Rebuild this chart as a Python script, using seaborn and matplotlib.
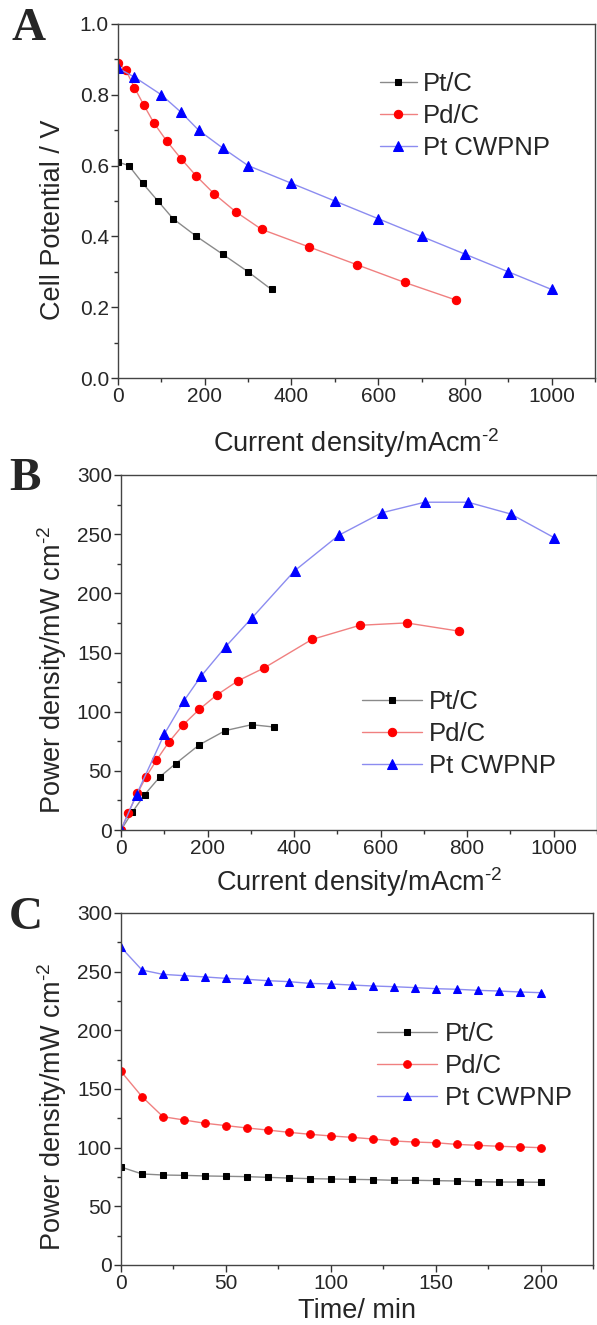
import matplotlib
matplotlib.use("Agg")
import matplotlib.pyplot as plt
from matplotlib.ticker import AutoMinorLocator, MultipleLocator
import seaborn as sns

# --- data ---
series_names = ["Pt/C", "Pd/C", "Pt CWPNP"]

# A: polarisation curves (current density mA/cm2, cell potential V)
ptc_i_A = [0, 25, 57, 92, 127, 181, 241, 300, 354]
ptc_v_A = [0.61, 0.60, 0.55, 0.50, 0.45, 0.40, 0.35, 0.30, 0.25]
pdc_i_A = [0, 18, 38, 60, 83, 112, 145, 181, 222, 271, 331, 441, 551, 661, 780]
pdc_v_A = [0.89, 0.87, 0.82, 0.77, 0.72, 0.67, 0.62, 0.57, 0.52, 0.47, 0.42, 0.37, 0.32, 0.27, 0.22]
cwp_i_A = [0, 38, 100, 146, 186, 241, 300, 400, 500, 600, 700, 800, 900, 1000]
cwp_v_A = [0.875, 0.85, 0.80, 0.75, 0.70, 0.65, 0.60, 0.55, 0.50, 0.45, 0.40, 0.35, 0.30, 0.25]

# B: power density curves (mW/cm2)
ptc_i_B = [0, 26, 55, 90, 126, 181, 241, 302, 354]
ptc_p_B = [0, 15, 30, 45, 56, 72, 84, 89, 87]
pdc_i_B = [0, 16, 38, 58, 82, 110, 144, 181, 221, 270, 331, 441, 552, 660, 782]
pdc_p_B = [0, 14, 31, 45, 59, 74, 89, 102, 114, 126, 137, 161, 173, 175, 168]
cwp_i_B = [0, 36, 100, 145, 185, 242, 302, 401, 503, 602, 702, 802, 901, 1001]
cwp_p_B = [0, 30, 81, 109, 130, 155, 179, 219, 249, 268, 277, 277, 267, 247]

# C: power density vs time (min)
time_C = [0, 10, 20, 30, 40, 50, 60, 70, 80, 90, 100,
          110, 120, 130, 140, 150, 160, 170, 180, 190, 200]
ptc_C = [83.5, 77.6, 76.7, 76.4, 75.9, 75.6, 75.3, 74.7, 74.1, 73.6, 73.3,
         73.0, 72.7, 72.2, 72.2, 71.9, 71.6, 71.0, 70.7, 70.7, 70.5]
pdc_C = [165, 143.5, 126.4, 123.6, 120.8, 118.8, 116.8, 115.0, 113.1, 111.4, 110.0,
         108.8, 107.4, 105.7, 104.8, 104.2, 102.8, 102.0, 101.2, 100.6, 100.0]
cwp_C = [270.8, 251.4, 247.7, 246.6, 245.5, 244.3, 243.5, 242.3, 241.5, 240.0, 239.5,
         238.6, 237.8, 237.2, 236.4, 235.5, 235.0, 234.1, 233.5, 232.7, 232.1]

sns.set_style("ticks")
plt.rcParams["font.family"] = ["Liberation Sans", "DejaVu Sans"]
plt.rcParams["mathtext.fontset"] = "custom"
plt.rcParams["mathtext.rm"] = "Liberation Sans"
plt.rcParams["mathtext.it"] = "Liberation Sans:italic"
plt.rcParams["mathtext.bf"] = "Liberation Sans:bold"

line_colors = ["#8a8a8a", "#f08080", "#8c8cf0"]
mark_colors = ["black", "red", "blue"]
markers = ["s", "o", "^"]

W, H = 597, 1325
fig = plt.figure(figsize=(W / 100, H / 100), dpi=100)


def box(l, t, r, b):
    return [l / W, 1 - b / H, (r - l) / W, (b - t) / H]


axA = fig.add_axes(box(118, 24, 595, 378))
axB = fig.add_axes(box(121, 475, 597, 830))
axC = fig.add_axes(box(121, 913, 593, 1265))


def draw(ax, xs, ys, msizes):
    for k in range(3):
        sns.lineplot(x=xs[k], y=ys[k], ax=ax, estimator=None, sort=False,
                     color=line_colors[k], lw=1.0, marker=markers[k],
                     markersize=msizes[k], markerfacecolor=mark_colors[k],
                     markeredgecolor=mark_colors[k], label=series_names[k],
                     legend=False)


draw(axA, [ptc_i_A, pdc_i_A, cwp_i_A], [ptc_v_A, pdc_v_A, cwp_v_A], [5, 6, 6.5])
draw(axB, [ptc_i_B, pdc_i_B, cwp_i_B], [ptc_p_B, pdc_p_B, cwp_p_B], [5, 6, 6.5])
draw(axC, [time_C] * 3, [ptc_C, pdc_C, cwp_C], [4.5, 5.5, 6])

cur_label = r"Current density/mAcm$^{\text{-2}}$"
pow_label = r"Power density/mW cm$^{\text{-2}}$"

axA.set_xlim(0, 1100)
axA.set_ylim(0, 1.0)
axA.xaxis.set_major_locator(MultipleLocator(200))
axA.yaxis.set_major_locator(MultipleLocator(0.2))
axA.set_xlabel(cur_label)
axA.set_ylabel("Cell Potential / V")

for ax in (axB, axC):
    ax.set_ylim(0, 300)
    ax.yaxis.set_major_locator(MultipleLocator(50))
    ax.set_ylabel(pow_label)
axB.set_xlim(0, 1100)
axB.xaxis.set_major_locator(MultipleLocator(200))
axB.set_xlabel(cur_label)
axC.set_xlim(0, 225)
axC.xaxis.set_major_locator(MultipleLocator(50))
axC.set_xlabel("Time/ min")

xlab_y = {axA: -0.184, axB: -0.146, axC: -0.131}
ylab_pos = {axA: (-0.136, 0.446), axB: (-0.145, 0.45), axC: (-0.146, 0.449)}
for ax in (axA, axB, axC):
    ax.xaxis.set_minor_locator(AutoMinorLocator(2))
    ax.yaxis.set_minor_locator(AutoMinorLocator(2))
    ax.tick_params(which="major", direction="out", length=5, width=1,
                   labelsize=15, pad=1.5, color="#333333")
    ax.tick_params(which="minor", direction="out", length=3, width=1,
                   color="#333333")
    for s in ax.spines.values():
        s.set_color("#444444")
        s.set_linewidth(1.0)
    ax.xaxis.label.set_fontsize(19.5)
    ax.yaxis.label.set_fontsize(19.5)
    ax.xaxis.label.set_va("center")
    ax.yaxis.label.set_va("center")
    ax.xaxis.set_label_coords(0.5, xlab_y[ax])
    ax.yaxis.set_label_coords(*ylab_pos[ax])

leg_kw = dict(frameon=False, loc="upper left", borderpad=0, borderaxespad=0,
              fontsize=18.5, labelspacing=0.32)
axA.legend(bbox_to_anchor=(0.549, 0.865), handlelength=1.44,
           handletextpad=0.25, **leg_kw)
axB.legend(bbox_to_anchor=(0.506, 0.395), handlelength=2.35,
           handletextpad=0.25, **leg_kw)
axC.legend(bbox_to_anchor=(0.542, 0.691), handlelength=2.35,
           handletextpad=0.3, **leg_kw)

for letter, (px, py) in zip("ABC", [(29, 29), (25, 479), (26, 918)]):
    fig.text(px / W, 1 - py / H, letter, ha="center", va="center",
             fontsize=34, fontweight="bold", family="Liberation Serif")

fig.savefig("out.png", dpi=100)
